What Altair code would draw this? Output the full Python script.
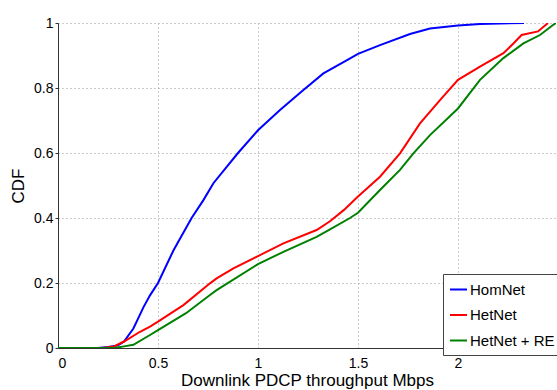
import altair as alt
import pandas as pd

series = ["HomNet", "HetNet", "HetNet + RE"]
colors = ["#0000FF", "#FF0000", "#008000"]

homnet_x = [0, 0.20, 0.25, 0.30, 0.33, 0.377, 0.427, 0.46, 0.50, 0.577, 0.668, 0.727, 0.777, 0.90, 1.0, 1.11, 1.227, 1.327, 1.443, 1.50, 1.61, 1.76, 1.86, 2.0, 2.11, 2.33]
homnet_y = [0, 0, 0.003, 0.008, 0.02, 0.06, 0.125, 0.162, 0.20, 0.30, 0.40, 0.455, 0.507, 0.60, 0.67, 0.732, 0.794, 0.845, 0.885, 0.905, 0.932, 0.966, 0.983, 0.992, 0.997, 1.0]

hetnet_x = [0, 0.22, 0.28, 0.33, 0.41, 0.46, 0.50, 0.627, 0.76, 0.793, 0.877, 1.0, 1.127, 1.293, 1.36, 1.43, 1.50, 1.61, 1.71, 1.81, 1.91, 2.0, 2.11, 2.227, 2.277, 2.318, 2.40, 2.45]
hetnet_y = [0, 0, 0.005, 0.02, 0.05, 0.066, 0.081, 0.132, 0.199, 0.214, 0.245, 0.283, 0.322, 0.363, 0.39, 0.425, 0.466, 0.527, 0.599, 0.691, 0.763, 0.825, 0.866, 0.907, 0.937, 0.963, 0.974, 1.0]

hetre_x = [0, 0.28, 0.33, 0.377, 0.46, 0.50, 0.64, 0.76, 0.793, 1.0, 1.127, 1.293, 1.36, 1.46, 1.50, 1.61, 1.71, 1.777, 1.86, 2.0, 2.11, 2.227, 2.327, 2.41, 2.475, 2.49]
hetre_y = [0, 0, 0.005, 0.01, 0.04, 0.055, 0.107, 0.163, 0.178, 0.258, 0.296, 0.342, 0.365, 0.40, 0.416, 0.486, 0.548, 0.599, 0.655, 0.737, 0.825, 0.892, 0.937, 0.963, 0.994, 1.0]

x_ticks = [0, 0.5, 1, 1.5, 2]
y_ticks = [0, 0.2, 0.4, 0.6, 0.8, 1]

rows = []
for name, xs, ys in zip(series, [homnet_x, hetnet_x, hetre_x], [homnet_y, hetnet_y, hetre_y]):
    for i, (a, b) in enumerate(zip(xs, ys)):
        rows.append({"series": name, "x": a, "y": b, "order": i})
df = pd.DataFrame(rows)

FONT = "Liberation Sans"

chart = alt.Chart(df).mark_line(strokeWidth=2, clip=True).encode(
    x=alt.X("x:Q",
            scale=alt.Scale(domain=[0, 2.49], nice=False, zero=False),
            axis=alt.Axis(values=x_ticks, format="~g", title="Downlink PDCP throughput Mbps",
                          tickSize=0, labelPadding=8, titlePadding=2)),
    y=alt.Y("y:Q",
            scale=alt.Scale(domain=[0, 1], nice=False),
            axis=alt.Axis(values=y_ticks, format="~g", title="CDF",
                          tickSize=3, labelPadding=2, titlePadding=6)),
    color=alt.Color("series:N",
                    scale=alt.Scale(domain=series, range=colors),
                    legend=alt.Legend(title=None, orient="none", legendX=385, legendY=251,
                                      strokeColor="#444444", fillColor="white", padding=6,
                                      symbolType="stroke", symbolStrokeWidth=2, symbolSize=289,
                                      labelFontSize=15, labelFont=FONT, labelColor="#000000",
                                      rowPadding=7.5, labelOffset=2)),
    order="order:Q",
).properties(
    width=498, height=325,
    padding={"left": 58, "top": 23, "right": 1, "bottom": 42},
    autosize="none",
).configure_view(stroke=None).configure_axis(
    labelFont=FONT, titleFont=FONT, labelFontSize=14, titleFontSize=17,
    labelColor="#000000", titleColor="#000000", titleFontWeight="normal",
    domainColor="#333333", tickColor="#333333",
    gridColor="#999999", gridDash=[1, 3], gridWidth=1,
)

chart.save("out.html", embed_options={"renderer": "svg", "actions": False})
